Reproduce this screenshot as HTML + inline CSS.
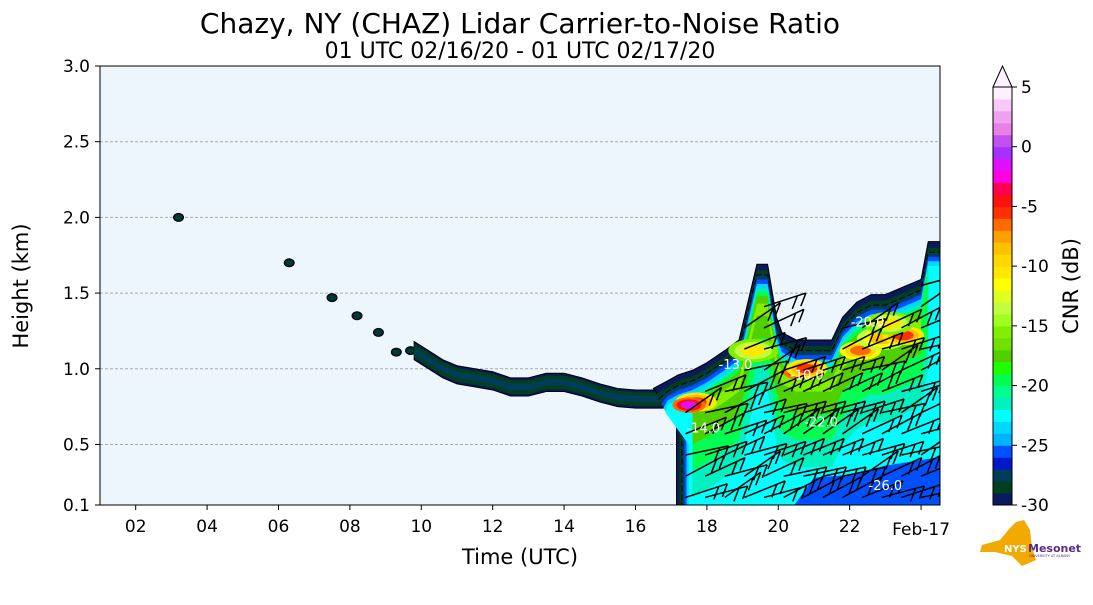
<!DOCTYPE html>
<html><head><meta charset="utf-8">
<style>
body{margin:0;background:#fff;width:1093px;height:600px;overflow:hidden;font-family:"Liberation Sans","DejaVu Sans",sans-serif}
svg text{font-family:"DejaVu Sans","Liberation Sans",sans-serif}
</style></head><body>
<svg id="chart" width="1093" height="600" viewBox="0 0 1093 600" xmlns="http://www.w3.org/2000/svg">
<text x="520" y="33" font-size="28" text-anchor="middle" fill="#000">Chazy, NY (CHAZ) Lidar Carrier-to-Noise Ratio</text>
<text x="520" y="58" font-size="22" text-anchor="middle" fill="#000">01 UTC 02/16/20 - 01 UTC 02/17/20</text>
<g id="plot"></g>
<g id="cbar"></g>
<text x="520" y="564" font-size="21" text-anchor="middle">Time (UTC)</text>
<text transform="translate(28,286) rotate(-90)" font-size="21" text-anchor="middle">Height (km)</text>
<text transform="translate(1078,286) rotate(-90)" font-size="21" text-anchor="middle">CNR (dB)</text>
<g>
<path d="M982,545 L1000,540 L1010,528 L1016,522 L1024,520 L1030,530 L1032,548 L1036,560 L1022,566 L1012,556 L995,552 L980,552 Z" fill="#f2a900"/>
<text x="1004" y="552" font-size="10" font-weight="bold" fill="#fff">NYS</text>
<text x="1028" y="552" font-size="11" font-weight="bold" fill="#5b2c83">Mesonet</text>
<text x="1029" y="557" font-size="3.5" fill="#5b2c83">UNIVERSITY AT ALBANY</text>
</g>
</svg>
<script>
const NS='http://www.w3.org/2000/svg';
// ---- data ----
const levels=[-30,-29,-28,-27,-26,-25,-24,-23,-22,-21,-20,-19,-18,-17,-16,-15,-14,-13,-12,-11,-10,-9,-8,-7,-6,-5,-4,-3,-2,-1,0,1,2,3,4];
const levelColors=['#0a1a5c','#00401f','#003d5a','#0018c8','#0050ff','#00b4ff','#00d8ff','#00ffff','#00f0c0','#00ff90','#00ff50','#20ff00','#50d000','#70e000','#80f000','#a0ff20','#c0ff40','#e0ff20','#ffff00','#ffe800','#ffd800','#ffc000','#ffa000','#ff6a00','#ff3000','#ff1010','#ff0050','#ff00e0','#e010ff','#a830ff','#c050f0','#e880e8','#f0a0f0','#f8c8f8','#fff0ff'];
const cbTicks=[5,0,-5,-10,-15,-20,-25,-30];
const yTicks=[0.1,0.5,1.0,1.5,2.0,2.5,3.0];
const xTicks=[2,4,6,8,10,12,14,16,18,20,22,24];
const xTickLabels=['02','04','06','08','10','12','14','16','18','20','22','Feb-17'];
const blobTimes=[3.2,6.3,7.5,8.2,8.8,9.3,9.7];
const blobHeights=[2.0,1.7,1.47,1.35,1.24,1.11,1.12];
const trailTimes=[9.8,10.2,10.6,11.0,11.5,12.0,12.5,13.0,13.5,14.0,14.5,15.0,15.5,16.0,16.5,16.9];
const trailHeights=[1.12,1.06,1.0,0.96,0.94,0.92,0.88,0.88,0.91,0.91,0.88,0.84,0.81,0.8,0.8,0.8];
const topTimes=[16.5,16.9,17.2,17.6,18.0,18.5,18.9,19.2,19.4,19.7,19.95,20.1,20.5,21.0,21.5,21.8,22.2,22.6,23.0,23.5,24.0,24.2,24.53];
const topHeights=[0.83,0.88,0.92,0.95,1.0,1.08,1.15,1.45,1.65,1.65,1.3,1.2,1.15,1.15,1.15,1.3,1.4,1.45,1.45,1.5,1.55,1.8,1.8];
const hotTimes=[17.7,17.5,19.3,20.6,20.8,22.3,22.9,23.5,23.1];
const hotHeights=[0.78,0.76,1.12,0.98,1.0,1.12,1.2,1.22,1.3];
const hotValues=[-6,-2,-11,-2,-6,-7,-9,-6,-11];
const barbAngles=[-18,-28,-12,-22,-35,-15,-25];

// ---- axes ----
const X0=100,X1=940,Y0=505,Y1=66,TMIN=1,TMAX=24.53,HMIN=0.1,HMAX=3.0;
const X=t=>X0+(t-TMIN)/(TMAX-TMIN)*(X1-X0);
const Y=h=>Y0-(h-HMIN)/(HMAX-HMIN)*(Y0-Y1);
const colorOf=v=>{let i=levels.findIndex(l=>v<l+1);if(i<0)i=levels.length-1;return levelColors[i];};
function el(tag,attrs,parent){const e=document.createElementNS(NS,tag);for(const k in attrs)e.setAttribute(k,attrs[k]);parent.appendChild(e);return e;}
const plot=document.getElementById('plot');
const bg=el('rect',{x:X0,y:Y1,width:X1-X0,height:Y0-Y1,fill:'#eef6fd'},plot);


const defs=el('defs',{},plot);
const cp=el('clipPath',{id:'clip'},defs);el('rect',{x:X0,y:Y1,width:X1-X0,height:Y0-Y1},cp);
yTicks.forEach(h=>{
  if(h>0.1&&h<3.0){const g=el('line',{x1:X0,x2:X1,y1:Y(h),y2:Y(h),stroke:'#aaa','stroke-dasharray':'3,2','stroke-width':1},plot);
  
  }
});
const data=el('g',{'clip-path':'url(#clip)'},plot);


blobTimes.forEach((t,i)=>{
  [[-30,5,4],[-29,3.5,2.5]].forEach(([lv,rx,ry])=>{
    const e=el('ellipse',{cx:X(t),cy:Y(blobHeights[i]),rx:rx,ry:ry,fill:colorOf(lv),stroke:'#000','stroke-width':lv==-30?1:0},data);
    
    
  });
});
function bandPath(ts,hs,dUp,dDn){let p='';ts.forEach((t,i)=>p+=(i?'L':'M')+X(t)+','+Y(hs[i]+dUp));for(let i=ts.length-1;i>=0;i--)p+='L'+X(ts[i])+','+Y(hs[i]-dDn);return p+'Z';}
[[-30,0.06,0.06],[-29,0.045,0.045],[-28,0.02,0.02]].forEach(([lv,u,d])=>{
  const p=el('path',{d:bandPath(trailTimes,trailHeights,u,d),fill:colorOf(lv),stroke:lv==-30?'#000':'none','stroke-width':1},data);
  
  
});
function regionPath(dTop,dLeft){
  let p='';const ts=topTimes;
  ts.forEach((t,i)=>{const tt=Math.max(t,ts[0]+dLeft);p+=(i?'L':'M')+X(tt)+','+Y(topHeights[i]-dTop);});
  p+='L'+X(TMAX+0.2)+','+Y(0.05)+'L'+X(17.15+dLeft)+','+Y(0.05)+'L'+X(17.15+dLeft)+','+Y(0.62-dTop)+'Z';
  return p;
}
[[-30,-0.04,0],[-29,0,0.08],[-28,0.03,0.15],[-26,0.06,0.22],[-24,0.09,0.28],[-23,0.12,0.34]].forEach(([lv,dt,dl])=>{
  const p=el('path',{d:regionPath(dt,dl),fill:colorOf(lv),stroke:lv==-30?'#000':(lv==-28?'#000':'none'),'stroke-width':1,'stroke-dasharray':lv==-28?'6,3':'none'},data);
  
  
});
function topBand(t0,t1,dUp,dDn){const ts=[],hs=[];topTimes.forEach((t,i)=>{if(t>=t0&&t<=t1){ts.push(t);hs.push(topHeights[i]);}});return bandPath(ts,hs,-dUp,dDn);}
[[-22,17.3,24.3,0.12,0.8],[-20,17.4,24.2,0.14,0.62],[-18,17.5,24.1,0.17,0.45],[-16,17.7,24.0,0.22,0.3]].forEach(([lv,a,b,u,d])=>{
  const p=el('path',{d:topBand(a,b,u,d),fill:colorOf(lv)},data);
  
  
});
const lowP=el('path',{d:`M${X(20.3)},${Y(0.05)}L${X(21)},${Y(0.28)}L${X(22)},${Y(0.3)}L${X(23)},${Y(0.36)}L${X(24.6)},${Y(0.42)}L${X(24.6)},${Y(0.05)}Z`,fill:colorOf(-26)},data);


hotTimes.forEach((t,i)=>{
  const v=hotValues[i];const s=v>-5?0.8:(v>-9?1.0:1.2);
  [[v-5,1.6],[v-2.5,1.2],[v,0.8]].forEach(([lv,k])=>{
    const e=el('ellipse',{cx:X(t),cy:Y(hotHeights[i]),rx:13*s*k,ry:6*s*k,fill:colorOf(lv)},data);
    
    
  });
});
const barbs=el('g',{stroke:'#000','stroke-width':1.5,fill:'none'},data);


let bi=0;
for(let t=17.4;t<=24.4;t+=0.55){
  const ti=topTimes.findIndex(tt=>tt>=t);const top=topHeights[Math.max(ti,0)];
  for(let h=0.15;h<top-0.12;h+=0.14){
    const a=barbAngles[bi++%barbAngles.length]*Math.PI/180;
    const x=X(t),y=Y(h),L=44;const ex=x+L*Math.cos(a),ey=y+L*Math.sin(a);
    const b=el('path',{d:`M${x},${y}L${ex},${ey}M${ex},${ey}l${-5},${13}M${ex-9*Math.cos(a)},${ey-9*Math.sin(a)}l${-5},${13}`},barbs);
    
    
  }
}
[['-14.0',17.9,0.58],['-13.0',18.8,1.0],['-10.0',20.8,0.93],['-22.0',21.2,0.62],['-26.0',23.0,0.2],['-20.0',22.5,1.28]].forEach(([s,t,h])=>{
  const tx=el('text',{x:X(t),y:Y(h),fill:'#fff','font-size':13,'text-anchor':'middle'},data);tx.textContent=s;
  
  
});
el('rect',{x:X0,y:Y1,width:X1-X0,height:Y0-Y1,fill:'none',stroke:'#000','stroke-width':1},plot);
yTicks.forEach(h=>{
  el('line',{x1:X0-5,x2:X0,y1:Y(h),y2:Y(h),stroke:'#000'},plot);
  const t=el('text',{x:X0-10,y:Y(h)+6,'font-size':17,'text-anchor':'end'},plot);t.textContent=h.toFixed(1);
  
  
});
xTicks.forEach((v,i)=>{
  el('line',{x1:X(v),x2:X(v),y1:Y0,y2:Y0+5,stroke:'#000'},plot);
  const t=el('text',{x:X(v),y:Y0+(i==xTicks.length-1?30:27),'font-size':17,'text-anchor':'middle'},plot);t.textContent=xTickLabels[i];
  
  
});
const cb=document.getElementById('cbar');const CX=993,CW=19,CT=87,CB=505;
const CY=v=>CB-(v+30)/35*(CB-CT);
levels.forEach((lv,i)=>{
  const r=el('rect',{x:CX,y:CY(lv+1),width:CW,height:CY(lv)-CY(lv+1)+0.5,fill:levelColors[i]},cb);
  
  
});
el('path',{d:`M${CX},${CT}L${CX+CW/2},66L${CX+CW},${CT}Z`,fill:'#fff0ff',stroke:'#000'},cb);
el('path',{d:`M${CX},${CT}L${CX},${CB}L${CX+CW},${CB}L${CX+CW},${CT}`,fill:'none',stroke:'#000'},cb);
cbTicks.forEach(v=>{
  el('line',{x1:CX+CW,x2:CX+CW+5,y1:CY(v),y2:CY(v),stroke:'#000'},cb);
  const t=el('text',{x:CX+CW+9,y:CY(v)+6,'font-size':17},cb);t.textContent=v;
  
  
});
</script>
</body></html>
